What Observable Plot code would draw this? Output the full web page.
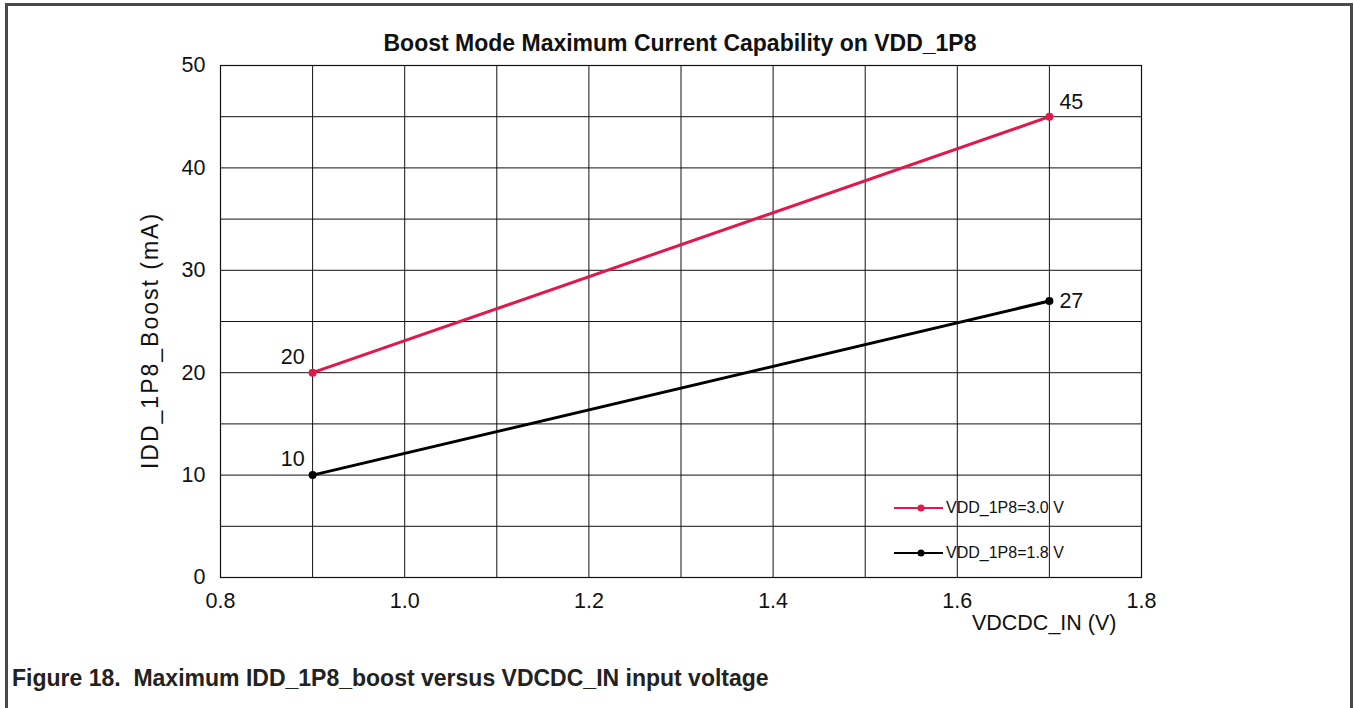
<!DOCTYPE html>
<html><head><meta charset="utf-8">
<script src="https://cdn.jsdelivr.net/npm/d3@7"></script>
<script src="https://cdn.jsdelivr.net/npm/@observablehq/plot@0.6"></script>
<style>
body{margin:0;background:#fff;width:1354px;height:708px;overflow:hidden;position:relative;font-family:"Liberation Sans",Arial,sans-serif;}
#frame{position:absolute;left:5px;top:3px;width:1342px;height:800px;border:3px solid #4a4a4a;border-bottom:none;}
#title{position:absolute;left:180px;width:1000px;top:30px;text-align:center;font-weight:bold;font-size:23px;color:#111;line-height:26px;white-space:nowrap;}
#chart{position:absolute;left:0;top:40px;}
#caption{position:absolute;left:12px;top:667px;font-weight:bold;font-size:23px;color:#222;line-height:23px;white-space:pre;}
#legend{position:absolute;left:892px;top:498px;font-size:16px;color:#111;}
.lrow{position:absolute;left:0;height:20px;display:flex;align-items:center;white-space:nowrap;}
.lrow svg{display:block;margin-right:2px;}
</style></head>
<body>
<div id="frame"></div>
<div id="chart"></div>
<div id="title"></div>
<div id="legend"></div>
<div id="caption"></div>
<script>
// ---- data ----
const titleText = "Boost Mode Maximum Current Capability on VDD_1P8";
const captionText = "Figure 18.  Maximum IDD_1P8_boost versus VDCDC_IN input voltage";
const xLabel = "VDCDC_IN (V)";
const yLabel = "IDD_1P8_Boost (mA)";
const vdcdcIn = [0.9, 1.7];
const idd30 = [20, 45];
const idd18 = [10, 27];
const seriesNames = ["VDD_1P8=3.0 V", "VDD_1P8=1.8 V"];
const xTicks = [0.8, 1.0, 1.2, 1.4, 1.6, 1.8];
const xTickLabels = ["0.8", "1.0", "1.2", "1.4", "1.6", "1.8"];
const xGrid = [0.8, 0.9, 1.0, 1.1, 1.2, 1.3, 1.4, 1.5, 1.6, 1.7, 1.8];
const yTicks = [0, 10, 20, 30, 40, 50];
const yGrid = [0, 5, 10, 15, 20, 25, 30, 35, 40, 45, 50];

// ---- styles ----
const colors = ["#e2184c", "#000000"];

const seriesValues = [idd30, idd18];
const rows = seriesNames.flatMap((s, si) => vdcdcIn.map((x, i) => ({series: s, x, y: seriesValues[si][i], idx: i})));
const firstRows = rows.filter(d => d.idx === 0);
const lastRed = rows.filter(d => d.idx === vdcdcIn.length - 1 && d.series === seriesNames[0]);
const lastBlack = rows.filter(d => d.idx === vdcdcIn.length - 1 && d.series === seriesNames[1]);

document.getElementById("title").textContent = titleText;
document.getElementById("caption").textContent = captionText;

const FS = 21.5;
const chart = Plot.plot({
  width: 1200, height: 605,
  marginLeft: 220, marginRight: 59, marginTop: 25, marginBottom: 68,
  style: {fontFamily: "'Liberation Sans', Arial, sans-serif", color: "#111", background: "transparent"},
  x: {domain: [0.8, 1.8]},
  y: {domain: [0, 50]},
  color: {domain: seriesNames, range: colors},
  marks: [
    Plot.gridX(xGrid, {stroke: "#111", strokeOpacity: 1, strokeWidth: 1}),
    Plot.gridY(yGrid, {stroke: "#111", strokeOpacity: 1, strokeWidth: 1}),
    Plot.frame({stroke: "#111", strokeWidth: 1.2}),
    Plot.axisX(xTicks, {tickSize: 0, tickPadding: 15, fontSize: FS, tickFormat: (d, i) => xTickLabels[i], label: null}),
    Plot.axisY(yTicks, {tickSize: 0, tickPadding: 15, fontSize: FS, label: null}),
    Plot.text([xLabel], {frameAnchor: "bottom-right", textAnchor: "end", lineAnchor: "middle", dx: -25, dy: 46, fontSize: FS}),
    Plot.text([yLabel], {frameAnchor: "left", textAnchor: "middle", rotate: -90, lineAnchor: "middle", dx: -70, dy: 19, fontSize: 23, className: "ylab"}),
    Plot.line(rows, {x: "x", y: "y", z: "series", stroke: "series", strokeWidth: 3}),
    Plot.dot(rows, {x: "x", y: "y", fill: "series", r: 4}),
    Plot.text(firstRows, {x: "x", y: "y", text: d => String(d.y), textAnchor: "end", dx: -8, dy: -16, fontSize: FS, lineAnchor: "middle"}),
    Plot.text(lastRed, {x: "x", y: "y", text: d => String(d.y), textAnchor: "start", dx: 10, dy: -15, fontSize: FS, lineAnchor: "middle"}),
    Plot.text(lastBlack, {x: "x", y: "y", text: d => String(d.y), textAnchor: "start", dx: 10, dy: 0, fontSize: FS, lineAnchor: "middle"})
  ]
});
d3.select(chart).selectAll("g.ylab text").style("letter-spacing", "2px");
document.getElementById("chart").appendChild(chart);

// legend
const legend = document.getElementById("legend");
seriesNames.forEach((s, i) => {
  const row = document.createElement("div");
  row.className = "lrow";
  row.style.top = (i * 45) + "px";
  const svg = d3.create("svg").attr("width", 52).attr("height", 20);
  svg.append("line").attr("x1", 2).attr("x2", 51).attr("y1", 10).attr("y2", 10).attr("stroke", colors[i]).attr("stroke-width", 2);
  svg.append("circle").attr("cx", 29).attr("cy", 10).attr("r", 3.5).attr("fill", colors[i]);
  row.appendChild(svg.node());
  const t = document.createElement("span");
  t.textContent = s;
  row.appendChild(t);
  legend.appendChild(row);
});
</script>
</body></html>
